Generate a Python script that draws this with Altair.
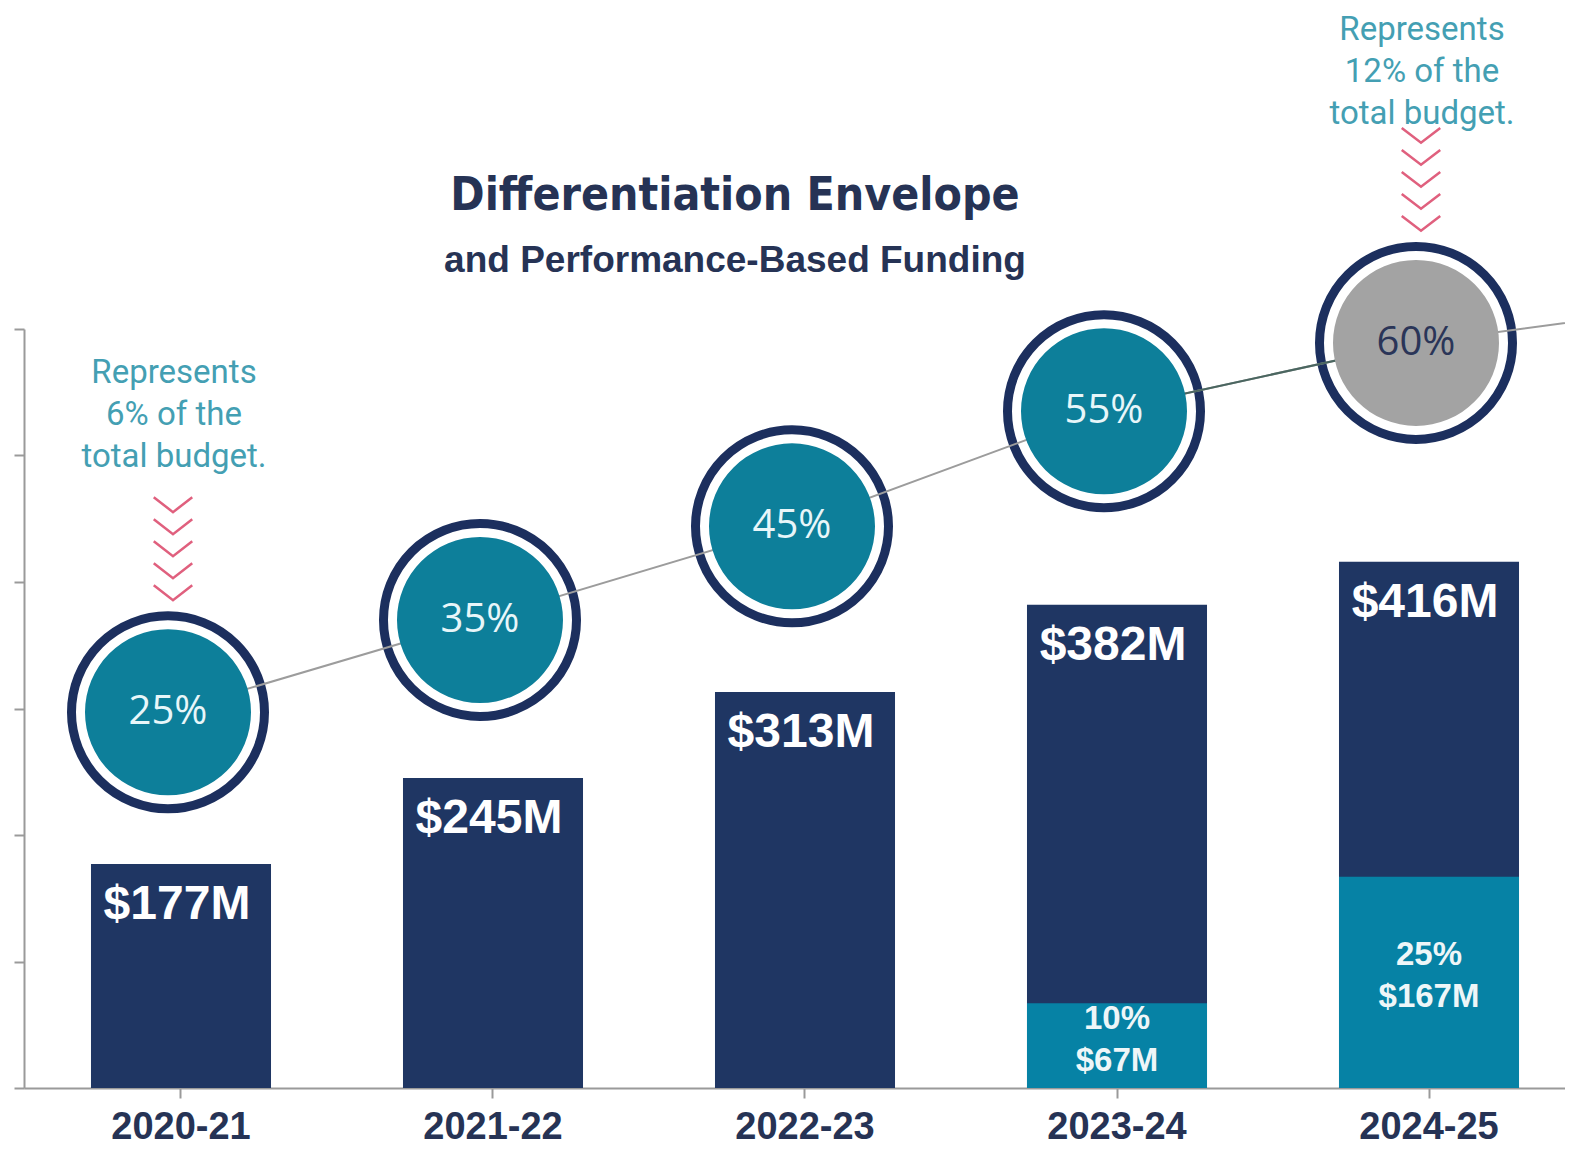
import altair as alt
import pandas as pd

# ---------------- data ----------------
years = ["2020-21", "2021-22", "2022-23", "2023-24", "2024-25"]
next_year = "2025-26"                      # off-chart continuation of the trend line
total_m = [177, 245, 313, 382, 416]         # Differentiation envelope ($M)
pbf_m = [0, 0, 0, 67, 167]                  # performance-based funding part ($M)
pbf_share = [0, 0, 0, 10, 25]               # % of envelope
env_pct = [25, 35, 45, 55, 60]              # circle percentages
circle_level = [297, 370, 444, 535, 589]    # circle heights (same $M scale)
next_level = 622
ann_years = ["2020-21", "2024-25"]
ann_budget = [6, 12]
ann_level = [565, 836]                      # annotation heights (same $M scale)
y_ticks = [0, 100, 200, 300, 400, 500, 600]
title_text = "Differentiation Envelope"
subtitle_text = "and Performance-Based Funding"

all_years = years + [next_year]

# ---------------- styles ----------------
NAVY = "#1f3663"
RING = "#1c2f5e"
LIGHT = "#0682a5"
TEAL = "#0d7f9a"
GREY = "#a3a3a3"
AXIS = "#9a9a9a"
TEXTNAVY = "#263355"
ANN = "#449fb3"
PINK = "#e0607e"
CX = -13

bars_df = pd.DataFrame({"year": years, "total": total_m,
                        "label": [f"${v}M" for v in total_m]})
pbf_df = pd.DataFrame({
    "year": [y for y, p in zip(years, pbf_m) if p > 0],
    "pbf": [p for p in pbf_m if p > 0],
    "label": [f"{s}%\n${p}M" for s, p in zip(pbf_share, pbf_m) if p > 0],
})
circ_df = pd.DataFrame({"year": years, "level": circle_level,
                        "pct": [f"{p}%" for p in env_pct]})
line_df = pd.DataFrame({"year": all_years, "level": circle_level + [next_level],
                        "idx": list(range(len(all_years)))})
ann_df = pd.DataFrame({
    "year": ann_years,
    "level": [circle_level[years.index(y)] for y in ann_years],
    "ann_level": ann_level,
    "text": [f"Represents\n{b}% of the\ntotal budget." for b in ann_budget],
})


def X():
    return alt.X(
        "year:N", sort=all_years,
        scale=alt.Scale(domain=all_years, range=[0, 1874],
                        paddingInner=0.423, paddingOuter=0.2147),
        axis=alt.Axis(values=years, title=None, labelAngle=0,
                      labelFont="Liberation Sans", labelFontSize=38,
                      labelFontWeight="bold", labelColor=TEXTNAVY,
                      labelBaseline="alphabetic", labelPadding=40,
                      tickSize=10, tickColor=AXIS,
                      tickWidth=2, domainColor=AXIS, domainWidth=2, grid=False),
    )


def Y(field):
    return alt.Y(
        f"{field}:Q",
        scale=alt.Scale(domain=[0, 600], nice=False, zero=True),
        axis=alt.Axis(values=y_ticks, labels=False, title=None, grid=False,
                      tickSize=10, tickColor=AXIS, tickWidth=2,
                      domainColor=AXIS, domainWidth=2),
    )


navy_bars = alt.Chart(bars_df).mark_bar(color=NAVY).encode(x=X(), y=Y("total"))
light_bars = alt.Chart(pbf_df).mark_bar(color=LIGHT).encode(x=X(), y=Y("pbf"))

top_labels = alt.Chart(bars_df).mark_text(
    baseline="top", dy=17, dx=-4, font="Liberation Sans", fontSize=48,
    fontWeight="bold", color="#ffffff"
).encode(x=X(), y=Y("total"), text="label:N")

low_labels = alt.Chart(pbf_df).transform_calculate(
    mid="datum.pbf / 2"
).mark_text(
    baseline="middle", dy=-27, lineBreak="\n", lineHeight=42,
    font="Liberation Sans", fontSize=33, fontWeight="bold", color="#eef6f8"
).encode(x=X(), y=Y("mid"), text="label:N")

rings = alt.Chart(circ_df).mark_point(
    shape="circle", filled=True, fill="white", stroke=RING, strokeWidth=9,
    size=37249, opacity=1, fillOpacity=1, strokeOpacity=1, xOffset=CX
).encode(x=X(), y=Y("level"))

trend = alt.Chart(line_df).mark_line(
    color="#9c9c9c", strokeWidth=2, xOffset=CX
).encode(x=X(), y=Y("level"), order="idx:Q")

trend_dark = alt.Chart(line_df).transform_filter(
    alt.FieldOneOfPredicate(field="year", oneOf=["2023-24", "2024-25"])
).mark_line(color="#4a6660", strokeWidth=2, xOffset=CX).encode(
    x=X(), y=Y("level"), order="idx:Q")

inner = alt.Chart(circ_df).mark_point(
    shape="circle", filled=True, size=27556, opacity=1, strokeWidth=0,
    xOffset=CX
).encode(
    x=X(), y=Y("level"),
    color=alt.condition("datum.year == '2024-25'", alt.value(GREY), alt.value(TEAL)),
)

pct_labels = alt.Chart(circ_df).mark_text(
    baseline="middle", font="Open Sans", fontSize=40, xOffset=CX
).encode(
    x=X(), y=Y("level"), text="pct:N",
    color=alt.condition("datum.year == '2024-25'", alt.value("#2a3558"), alt.value("#e8f6f9")),
)

ann_text = alt.Chart(ann_df).mark_text(
    baseline="middle", align="center", font="Roboto", fontSize=33,
    color=ANN, lineBreak="\n", lineHeight=42, xOffset=-7
).encode(x=X(), y=Y("ann_level"), text="text:N")

chevron_path = ("M-0.35,-1L0,-0.73L0.35,-1"
                "M-0.35,-0.6L0,-0.33L0.35,-0.6"
                "M-0.35,-0.2L0,0.07L0.35,-0.2"
                "M-0.35,0.2L0,0.47L0.35,0.2"
                "M-0.35,0.6L0,0.87L0.35,0.6")
chevrons = alt.Chart(ann_df).mark_point(
    shape=chevron_path, size=12100, filled=False, stroke=PINK,
    strokeWidth=2.5, opacity=1, xOffset=-8, yOffset=-160
).encode(x=X(), y=Y("level"))

title_df = pd.DataFrame({"t": [title_text]})
sub_df = pd.DataFrame({"t": [subtitle_text]})
title_mark = alt.Chart(title_df).mark_text(
    align="center", baseline="alphabetic",
    font="Liberation Sans Narrow, DejaVu Sans Condensed, Liberation Sans",
    fontSize=46, fontWeight="bold", color=TEXTNAVY
).encode(x=alt.value(711), y=alt.value(-119), text="t:N")
sub_mark = alt.Chart(sub_df).mark_text(
    align="center", baseline="alphabetic", font="Liberation Sans",
    fontSize=37, fontWeight="bold", color=TEXTNAVY
).encode(x=alt.value(711), y=alt.value(-57), text="t:N")

chart = alt.layer(
    navy_bars, light_bars, top_labels, low_labels,
    rings, trend, trend_dark, inner, pct_labels,
    ann_text, chevrons, title_mark, sub_mark,
).properties(
    width=1541, height=759,
    padding={"left": 16, "top": 321, "right": 0, "bottom": 57},
    autosize=alt.AutoSizeParams(type="none"),
    background="white",
).configure_view(stroke=None)

chart.save("out.html", embed_options={"renderer": "svg", "actions": False})
